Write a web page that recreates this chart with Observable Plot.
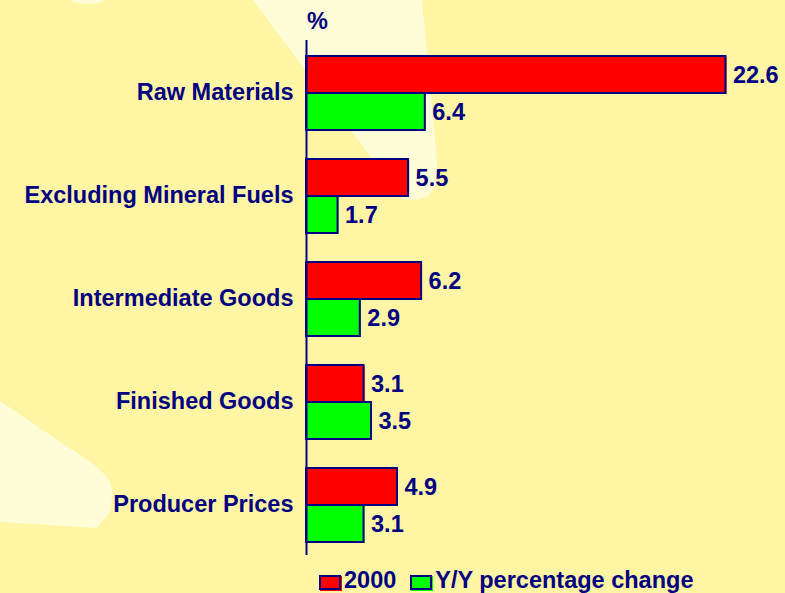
<!DOCTYPE html>
<html>
<head>
<meta charset="utf-8">
<script src="https://cdn.jsdelivr.net/npm/d3@7"></script>
<script src="https://cdn.jsdelivr.net/npm/@observablehq/plot@0.6"></script>
<style>
  html, body { margin: 0; padding: 0; }
  body { background: #FFF5A5; }
  #wrap { position: relative; width: 785px; height: 593px; overflow: hidden; background: #FFF5A5;
          font-family: "Liberation Sans", Arial, Helvetica, sans-serif; font-weight: bold; color: #000080; }
  .ray { position: absolute; left: 0; top: 0; width: 785px; height: 593px; background: #FFFDD8; }
  #ray1 { clip-path: polygon(253px 0px, 422px 0px, 437px 160px, 436px 185px, 428px 196px, 416px 200px, 402px 199px); }
  #ray2 { clip-path: polygon(0px 401px, 96px 466px, 108px 478px, 113px 492px, 110px 512px, 97px 528px, 0px 522px); }
  #ray3 { left: 71px; top: -8px; width: 34px; height: 12px; border-radius: 50%; }
  #chart { position: absolute; left: 0; top: 0; }
  #pct { position: absolute; left: 307px; top: 10px; font-size: 23.5px; line-height: 23.5px; }
  #legend { position: absolute; left: 319px; top: 569px; font-size: 23.5px; line-height: 23.5px; display: flex; align-items: center; white-space: nowrap; }
  .sw { display: inline-block; width: 18px; height: 11px; border: 2px solid #000080; margin-right: 3px; margin-top: 3px; }
  .item { display: flex; align-items: center; margin-right: 14px; }
</style>
</head>
<body>
<div id="wrap">
  <div class="ray" id="ray1"></div>
  <div class="ray" id="ray2"></div>
  <div class="ray" id="ray3"></div>
  <div id="chart"></div>
  <div id="pct">%</div>
  <div id="legend"></div>
</div>
<script>
const categories = ["Raw Materials", "Excluding Mineral Fuels", "Intermediate Goods", "Finished Goods", "Producer Prices"];
const series = ["2000", "Y/Y percentage change"];
const values2000 = [22.6, 5.5, 6.2, 3.1, 4.9];
const valuesYY = [6.4, 1.7, 2.9, 3.5, 3.1];
const seriesColors = ["#FF0000", "#00FF00"];

const data = categories.flatMap((c, i) => [
  {category: c, series: series[0], value: values2000[i]},
  {category: c, series: series[1], value: valuesYY[i]}
]);

const navy = "#000080";
const fs = 23.5;

const chart = Plot.plot({
  width: 785,
  height: 560,
  marginTop: 39,
  marginBottom: 3.5,
  marginLeft: 306,
  marginRight: 15,
  style: {background: "transparent", fontFamily: "'Liberation Sans', Arial, sans-serif", fontWeight: "bold", fontSize: fs + "px", color: navy, overflow: "visible"},
  x: {domain: [0, 25], axis: null},
  y: {domain: series, paddingInner: 0, paddingOuter: 0.38, align: 0.56, axis: null},
  fy: {domain: categories, padding: 0, label: null},
  color: {domain: series, range: seriesColors},
  marks: [
    Plot.axisFy({anchor: "left", tickSize: 0, tickPadding: 13, label: null, fontSize: fs, fontWeight: "bold", fill: navy}),
    Plot.barX(data, {x: "value", y: "series", fy: "category", fill: "series", dx: 1, dy: 1}),
    Plot.barX(data, {x: "value", y: "series", fy: "category", fill: "series", stroke: navy, strokeWidth: 2}),
    Plot.ruleX([0], {stroke: navy, strokeWidth: 2}),
    Plot.text(data, {x: "value", y: "series", fy: "category", text: d => d.value.toFixed(1), textAnchor: "start", dx: 7, fill: navy, fontSize: fs, fontWeight: "bold"})
  ]
});
document.getElementById("chart").appendChild(chart);

const legend = document.getElementById("legend");
series.forEach((s, i) => {
  const item = document.createElement("span");
  item.className = "item";
  const sw = document.createElement("span");
  sw.className = "sw";
  sw.style.background = seriesColors[i];
  sw.style.boxShadow = `1px 1px 0 ${seriesColors[i]}`;
  item.appendChild(sw);
  item.appendChild(document.createTextNode(s));
  legend.appendChild(item);
});
</script>
</body>
</html>
